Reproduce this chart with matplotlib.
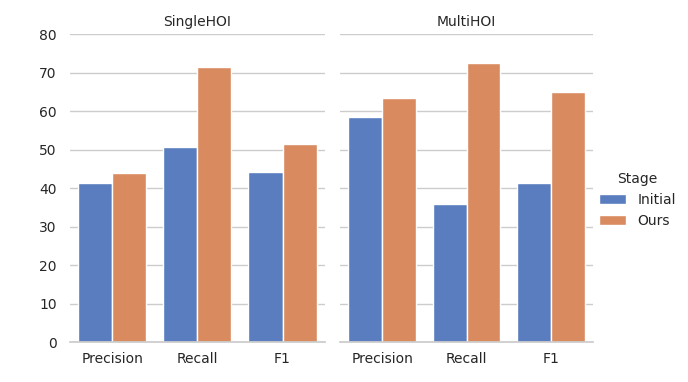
import numpy as np
import pandas as pd
import matplotlib
matplotlib.use("Agg")
import matplotlib.pyplot as plt
import seaborn as sns

datasets = ["SingleHOI", "MultiHOI"]
metrics = ["Precision", "Recall", "F1"]
stages = ["Initial", "Ours"]

single_initial = [41.2, 50.6, 44.1]
single_ours = [43.9, 71.4, 51.4]
multi_initial = [58.4, 35.9, 41.2]
multi_ours = [63.3, 72.4, 65.0]

rows = []
for ds, init, ours in [("SingleHOI", single_initial, single_ours),
                       ("MultiHOI", multi_initial, multi_ours)]:
    for m, a, b in zip(metrics, init, ours):
        rows.append({"dataset": ds, "metric": m, "Stage": "Initial", "value": a})
        rows.append({"dataset": ds, "metric": m, "Stage": "Ours", "value": b})
df = pd.DataFrame(rows)

sns.set_theme(style="whitegrid")

fig = plt.figure(figsize=(6.88, 3.82), dpi=100)
ax1 = fig.add_axes([0.1017, 0.1047, 0.3707, 0.806])
ax2 = fig.add_axes([0.494, 0.1047, 0.3683, 0.806], sharey=ax1)

for ax, ds in zip([ax1, ax2], datasets):
    sns.barplot(data=df[df["dataset"] == ds], x="metric", y="value", hue="Stage",
                hue_order=stages, order=metrics, palette="muted", errorbar=None,
                ax=ax, legend=(ds == "MultiHOI"))
    ax.set_title(ds, fontsize=10)
    ax.set_xlabel("")
    ax.set_ylabel("")
    ax.set_ylim(0, 80)
    ax.set_yticks(np.arange(0, 81, 10))
    ax.tick_params(axis="both", labelsize=10)
    ax.tick_params(axis="x", pad=1)
    sns.despine(ax=ax, left=True)

ax2.tick_params(axis="y", labelleft=False)

leg = ax2.get_legend()
handles = leg.legend_handles
leg.remove()
fig.legend(handles, stages, title="Stage", loc="center left",
           bbox_to_anchor=(0.852, 0.477), frameon=False, fontsize=10,
           title_fontsize=10)

fig.savefig("out.png", dpi=100)
